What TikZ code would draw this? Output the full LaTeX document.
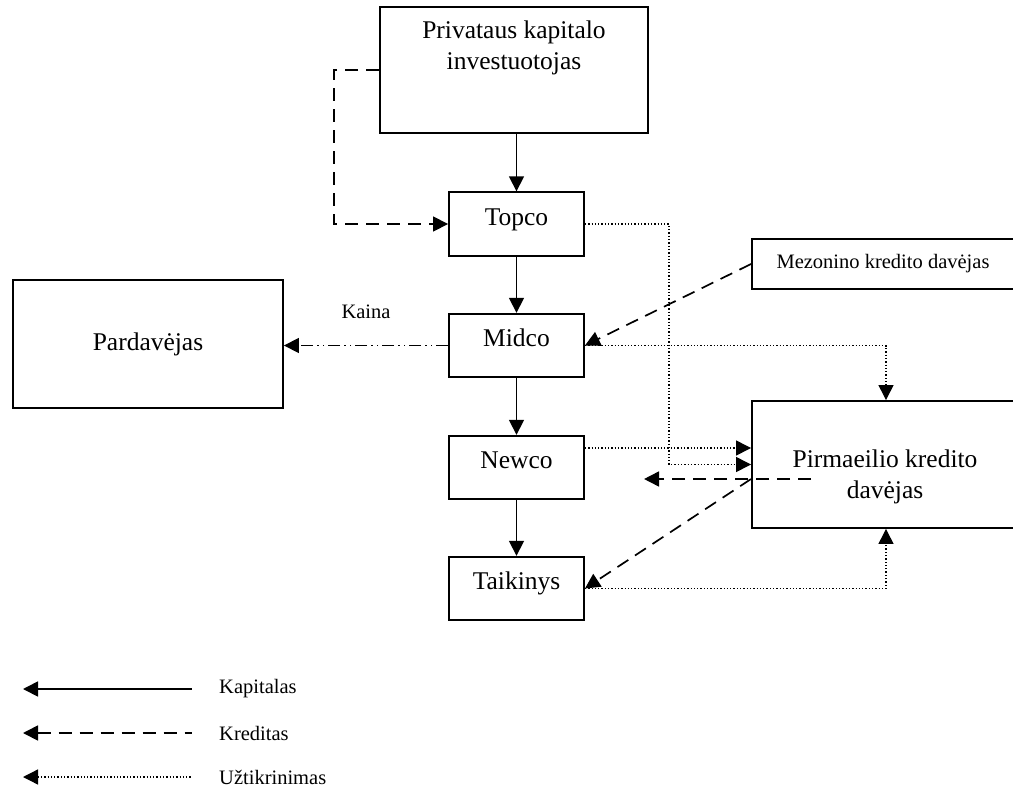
\documentclass[tikz,border=0pt]{standalone}
\usepackage{fontspec}
\setmainfont{Liberation Serif}
\usetikzlibrary{arrows.meta}
\begin{document}
\begin{tikzpicture}[x=1pt, y=-1pt, line join=miter, >={Triangle[length=15pt,width=15pt]},
	font=\fontsize{25.5pt}{31pt}\selectfont,
	box/.style={draw, line width=1.9pt, inner sep=0pt},
	midbox/.style={box, minimum width=135pt, minimum height=63.5pt, text height=17pt, text depth=15pt},
	small/.style={font=\fontsize{20.5pt}{24pt}\selectfont},
	capital/.style={line width=1.7pt},
	credit/.style={line width=1.7pt, dash pattern=on 13pt off 8pt},
	guar/.style={line width=1.3pt, dash pattern=on 1.3pt off 2pt},
	price/.style={line width=1.7pt, dash pattern=on 12pt off 4pt on 1.5pt off 4pt on 1.5pt off 4pt}]
	\useasboundingbox (0,0) rectangle (1013,795);
	% boxes
	\node[box, minimum width=268pt, minimum height=126pt] (inv) at (514,70) {};
	\node[anchor=north, align=center, inner sep=0pt] (invtext) at (514,21) {Privataus kapitalo\\investuotojas};
	\node[midbox] (topco) at (516.5,224) {Topco};
	\node[midbox] (midco) at (516.5,345.5) {Midco};
	\node[midbox] (newco) at (516.5,467.5) {Newco};
	\node[midbox] (taik) at (516.5,588.5) {Taikinys};
	\node[box, minimum width=270pt, minimum height=128pt] (pard) at (148,344) {Pardavėjas};
	\node[box, small, minimum width=262pt, minimum height=50pt] (mez) at (883,264) {Mezonino kredito davėjas};
	\node[box, minimum width=262pt, minimum height=127pt] (pirm) at (883,464.5) {};
	\node[anchor=north, align=center, inner sep=0pt] (pirmtext) at (885,450) {Pirmaeilio kredito\\davėjas};
	% kapitalas
	\draw[capital,->] (topco.north |- inv.south) -- (topco.north);
	\draw[capital,->] (topco) -- (midco);
	\draw[capital,->] (midco) -- (newco);
	\draw[capital,->] (newco) -- (taik);
	% kreditas
	\draw[credit,->] (inv.west) -- ++(-45,0) |- (topco.west);
	\draw[credit,->] (mez.west) -- (midco.east);
	\coordinate (c1) at ([yshift=-14.5pt]pirm.west);
	\draw[credit,->] ([xshift=60pt]c1) -- ([xshift=-107pt]c1);
	\draw[credit,->] (c1) -- (taik.east);
	% kaina
	\draw[price,->] (midco.west) -- (pard.east |- midco.west) node[midway, above=23pt, small] (kaina) {Kaina};
	% uztikrinimas
	\draw[guar,->] (topco.east) -- ++(84,0) |- (pirm.west);
	\draw[guar,->] ([yshift=19.5pt]newco.east) coordinate (n1) -- (n1 -| pirm.west);
	\draw[guar,->] (midco.east) -| ([xshift=3pt]pirm.north);
	\draw[guar,->] (taik.east) -| ([xshift=3pt]pirm.south);
	% legend
	\foreach \y/\s/\t in {689/capital/Kapitalas, 733/credit/Kreditas, 777/guar/Užtikrinimas}{
		\node[small, anchor=west, inner sep=0pt] (leg\y) at (219,\y) {\t};
		\draw[\s,<-] ([xshift=-196pt]leg\y.west) -- ([xshift=-27pt]leg\y.west);
	}
\end{tikzpicture}
\end{document}
